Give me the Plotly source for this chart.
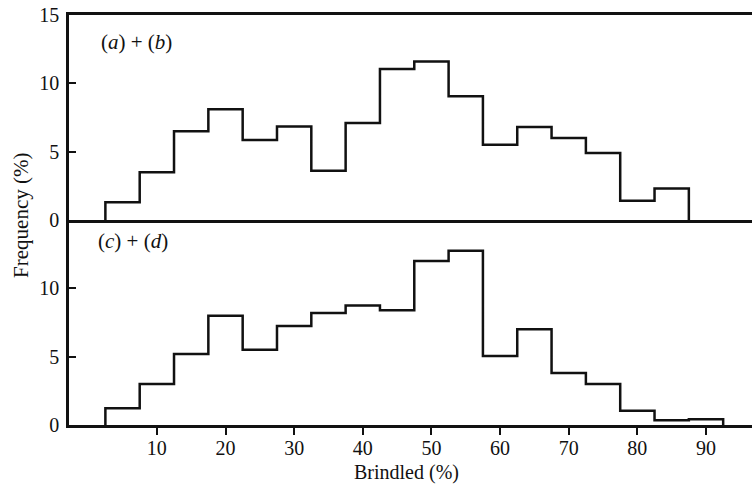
import plotly.graph_objects as go
from plotly.subplots import make_subplots

# Bin centres (Brindled %) and frequencies (%)
bins_ab = [5, 10, 15, 20, 25, 30, 35, 40, 45, 50, 55, 60, 65, 70, 75, 80, 85]
freq_ab = [1.3, 3.5, 6.5, 8.1, 5.85, 6.85, 3.6, 7.1, 11.05, 11.6, 9.05, 5.5, 6.8, 6.0, 4.9, 1.4, 2.3]

bins_cd = [5, 10, 15, 20, 25, 30, 35, 40, 45, 50, 55, 60, 65, 70, 75, 80, 85, 90]
freq_cd = [1.23, 3.0, 5.2, 8.0, 5.5, 7.25, 8.2, 8.75, 8.4, 12.0, 12.75, 5.05, 7.0, 3.8, 3.0, 1.05, 0.35, 0.42]

y_ticks_top = [0, 5, 10, 15]
y_ticks_bottom = [0, 5, 10]
x_ticks = [10, 20, 30, 40, 50, 60, 70, 80, 90]
BIN_W = 5

INK = "#111111"
FONT = "Liberation Serif"


def step_xy(centres, values):
    edges = [c - BIN_W / 2 for c in centres]
    xs = [edges[0]] + edges + [centres[-1] + BIN_W / 2]
    ys = [0] + list(values) + [0]
    return xs, ys


fig = make_subplots(rows=2, cols=1, shared_xaxes=True, vertical_spacing=0)

xa, ya = step_xy(bins_ab, freq_ab)
xc, yc = step_xy(bins_cd, freq_cd)
fig.add_trace(go.Scatter(x=xa, y=ya, mode="lines", line=dict(shape="hv", color=INK, width=2.5),
                         showlegend=False, hoverinfo="skip"), row=1, col=1)
fig.add_trace(go.Scatter(x=xc, y=yc, mode="lines", line=dict(shape="hv", color=INK, width=2.5),
                         showlegend=False, hoverinfo="skip"), row=2, col=1)

axis_common = dict(showgrid=False, zeroline=False, linecolor=INK, linewidth=2.5, automargin=False,
                   tickfont=dict(family=FONT, size=20, color=INK), tickcolor=INK, tickwidth=2)

fig.update_xaxes(range=[-2.8, 96.7], **axis_common)
fig.update_xaxes(showline=True, mirror=True, ticks="", showticklabels=False, row=1, col=1)
fig.update_xaxes(showline=True, ticks="outside", ticklen=7, tickvals=x_ticks,
                 ticklabelstandoff=-4, row=2, col=1)

fig.update_yaxes(range=[0, 15], showline=True, ticks="inside", ticklen=7, ticklabelstandoff=3,
                 **axis_common)
fig.update_yaxes(tickvals=y_ticks_top, row=1, col=1)
fig.update_yaxes(tickvals=y_ticks_bottom, row=2, col=1)

fig.add_annotation(x=1.6, y=13.0, xref="x", yref="y", xanchor="left", yanchor="middle",
                   text="(<i>a</i>) + (<i>b</i>)", showarrow=False,
                   font=dict(family=FONT, size=21, color=INK))
fig.add_annotation(x=1.2, y=13.45, xref="x2", yref="y2", xanchor="left", yanchor="middle",
                   text="(<i>c</i>) + (<i>d</i>)", showarrow=False,
                   font=dict(family=FONT, size=21, color=INK))

fig.add_annotation(x=0, y=0.51, xref="paper", yref="paper", xshift=-48, text="Frequency (%)",
                   textangle=-90, showarrow=False, xanchor="center", yanchor="middle",
                   font=dict(family=FONT, size=21, color=INK))
fig.add_annotation(x=(406 - 69) / (752 - 69), y=0, xref="paper", yref="paper", yshift=-47,
                   text="Brindled (%)", showarrow=False, xanchor="center", yanchor="middle",
                   font=dict(family=FONT, size=20, color=INK))

fig.update_layout(width=752, height=485, margin=dict(l=69, r=0, t=15, b=60),
                  plot_bgcolor="white", paper_bgcolor="white")

fig.write_html("out.html", config={"displayModeBar": False},
               post_script="document.body.style.margin='0';")
